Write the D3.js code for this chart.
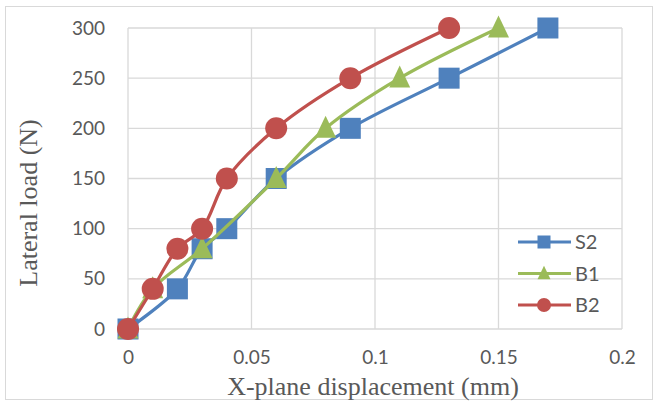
<!DOCTYPE html>
<html><head><meta charset="utf-8">
<script src="https://cdn.jsdelivr.net/npm/d3@7"></script>
<style>body{margin:0;background:#fff}svg{display:block}</style>
</head><body>
<svg id="c" width="657" height="405"></svg>
<script>
const xTicks = [0, 0.05, 0.1, 0.15, 0.2];
const yTicks = [0, 50, 100, 150, 200, 250, 300];
const seriesNames = ["S2", "B1", "B2"];
const s2X = [0, 0.02, 0.03, 0.04, 0.06, 0.09, 0.13, 0.17];
const s2Y = [0, 40, 80, 100, 150, 200, 250, 300];
const b1X = [0, 0.01, 0.03, 0.06, 0.08, 0.11, 0.15];
const b1Y = [0, 40, 80, 150, 200, 250, 300];
const b2X = [0, 0.01, 0.02, 0.03, 0.04, 0.06, 0.09, 0.13];
const b2Y = [0, 40, 80, 100, 150, 200, 250, 300];
const colors = ["#4f81bd", "#9bbb59", "#c0504d"];
const shapes = ["square", "triangle", "circle"];

const series = [
  {name: seriesNames[0], pts: s2X.map((x, i) => [x, s2Y[i]])},
  {name: seriesNames[1], pts: b1X.map((x, i) => [x, b1Y[i]])},
  {name: seriesNames[2], pts: b2X.map((x, i) => [x, b2Y[i]])}
];

const svg = d3.select("#c");
const L = 128, R = 622, T = 28, B = 329;
const x = d3.scaleLinear().domain([0, 0.2]).range([L, R]);
const y = d3.scaleLinear().domain([0, 300]).range([B, T]);

svg.append("rect").attr("x", 5.5).attr("y", 6.5).attr("width", 647).attr("height", 393)
  .attr("fill", "#fff").attr("stroke", "#d9d9d9");

const grid = svg.append("g").attr("stroke", "#d9d9d9").attr("stroke-width", 1.3);
yTicks.forEach(v => grid.append("line").attr("x1", L).attr("x2", R).attr("y1", y(v)).attr("y2", y(v)));
xTicks.forEach(v => grid.append("line").attr("x1", x(v)).attr("x2", x(v)).attr("y1", T).attr("y2", B));

const tickFont = "Lato, 'Open Sans', sans-serif";
svg.append("g").attr("transform", `translate(${L - 23},0)`)
  .call(d3.axisLeft(y).tickValues(yTicks).tickSize(0).tickPadding(0).tickFormat(d3.format("d")))
  .call(g => g.select(".domain").remove())
  .selectAll("text").attr("font-size", 19).attr("font-family", tickFont).attr("fill", "#595959");

svg.append("g").attr("transform", `translate(0,${B + 21})`)
  .call(d3.axisBottom(x).tickValues(xTicks).tickSize(0).tickPadding(0).tickFormat(d => d === 0 ? "0" : String(d)))
  .call(g => g.select(".domain").remove())
  .selectAll("text").attr("font-size", 19).attr("font-family", tickFont).attr("fill", "#595959");

svg.append("text").attr("x", 373).attr("y", 395).attr("text-anchor", "middle")
  .attr("font-family", "'Liberation Serif', 'Times New Roman', serif").attr("font-size", 26).attr("fill", "#595959")
  .text("X-plane displacement (mm)");
svg.append("text").attr("transform", `translate(37,203) rotate(-90)`).attr("text-anchor", "middle")
  .attr("font-family", "'Liberation Serif', 'Times New Roman', serif").attr("font-size", 26).attr("fill", "#595959")
  .text("Lateral load (N)");

function marker(g, shape, cx, cy, size, color) {
  if (shape === "square") {
    g.append("rect").attr("x", cx - size / 2).attr("y", cy - size / 2).attr("width", size).attr("height", size).attr("fill", color);
  } else if (shape === "circle") {
    g.append("circle").attr("cx", cx).attr("cy", cy).attr("r", size / 2).attr("fill", color);
  } else {
    const h = size;
    g.append("path").attr("d", `M${cx},${cy - h * 0.6}L${cx + size / 2},${cy + h * 0.45}L${cx - size / 2},${cy + h * 0.45}Z`).attr("fill", color);
  }
}

const line = d3.line().x(d => x(d[0])).y(d => y(d[1])).curve(d3.curveCatmullRom.alpha(0.5));
series.forEach((s, i) => {
  const g = svg.append("g");
  g.append("path").attr("d", line(s.pts)).attr("fill", "none").attr("stroke", colors[i]).attr("stroke-width", 3.2);
  s.pts.forEach(p => marker(g, shapes[i], x(p[0]), y(p[1]), shapes[i] === "circle" ? 22 : 21, colors[i]));
});

const leg = svg.append("g");
series.forEach((s, i) => {
  const ly = 242 + i * 31.5;
  leg.append("line").attr("x1", 518).attr("x2", 571).attr("y1", ly).attr("y2", ly).attr("stroke", colors[i]).attr("stroke-width", 3.2);
  marker(leg, shapes[i], 544, ly, shapes[i] === "circle" ? 14 : 13, colors[i]);
  leg.append("text").attr("x", 575).attr("y", ly).attr("dy", "0.36em").attr("font-size", 20)
    .attr("font-family", tickFont).attr("fill", "#595959").text(s.name);
});
</script>
</body></html>
